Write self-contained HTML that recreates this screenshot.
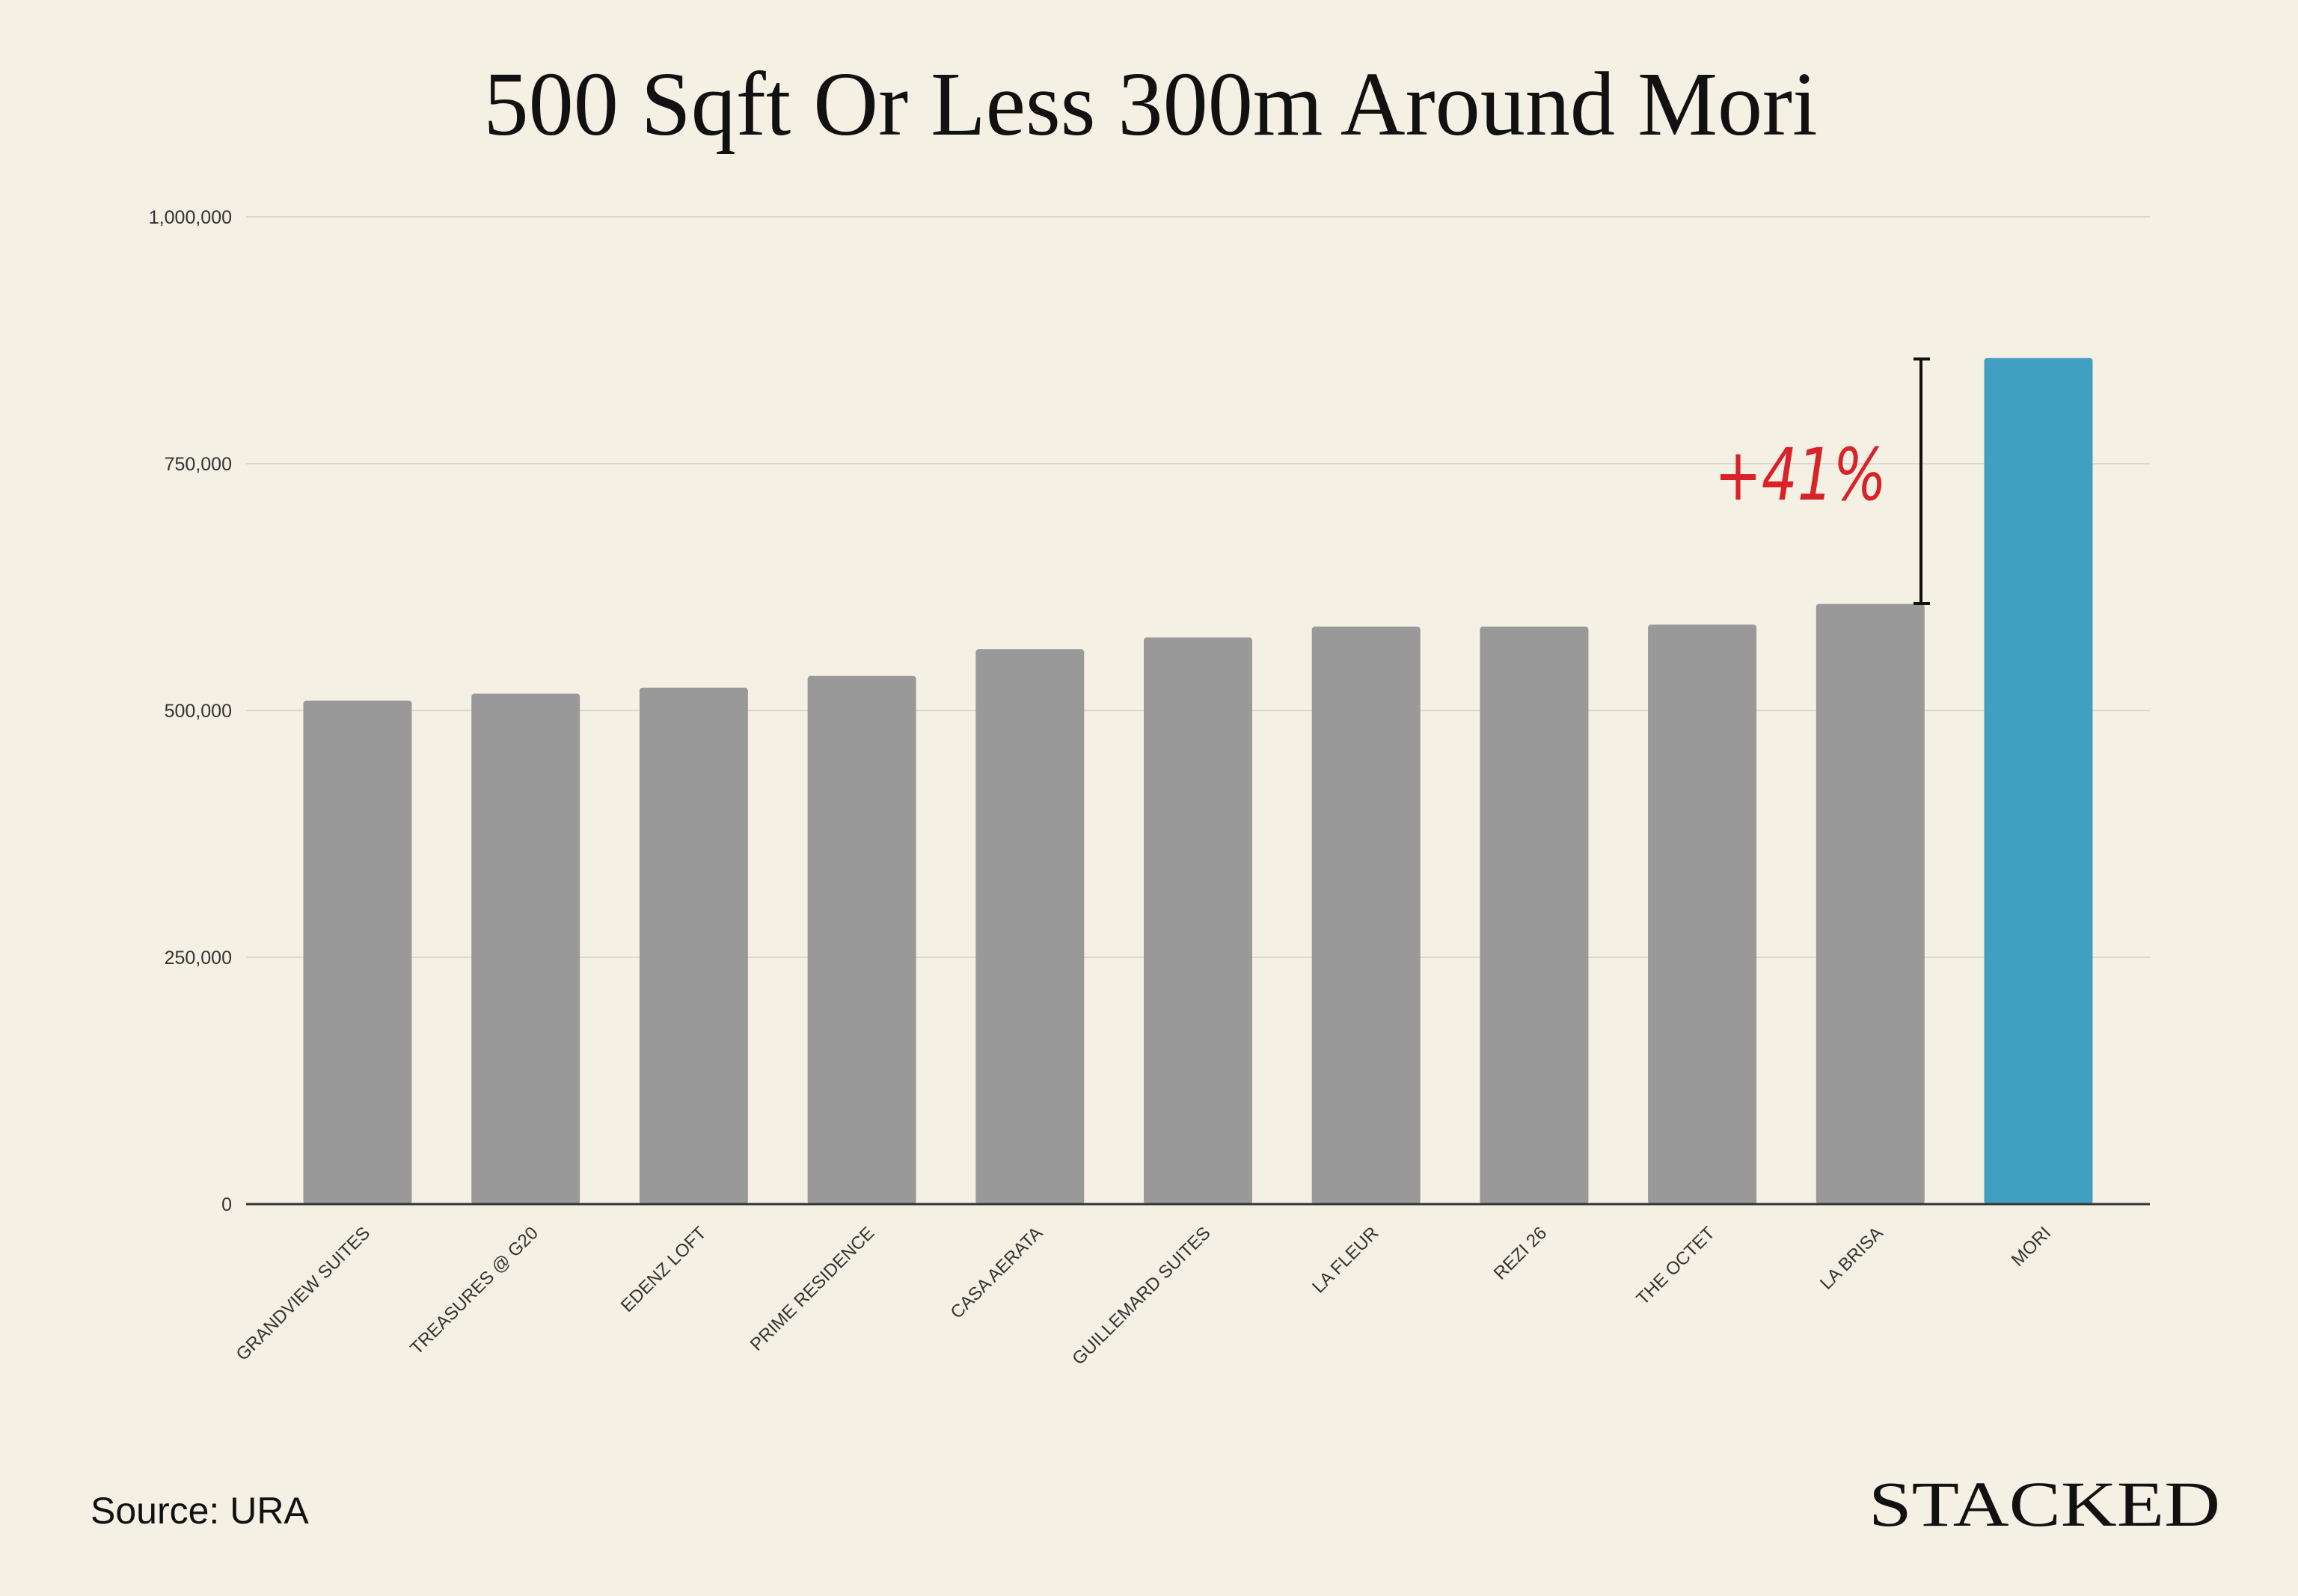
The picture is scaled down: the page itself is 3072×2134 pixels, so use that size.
<!DOCTYPE html>
<html><head><meta charset="utf-8"><style>
html,body{margin:0;padding:0;background:#f5f0e4;}
svg{display:block;}
</style></head><body>
<svg id="chart" width="3072" height="2134" xmlns="http://www.w3.org/2000/svg">
<rect width="3072" height="2134" fill="#f5f0e4"/>
<text x="1538" y="180" text-anchor="middle" font-family="Liberation Serif, serif" font-size="122" fill="#111" textLength="1783" lengthAdjust="spacingAndGlyphs">500 Sqft Or Less 300m Around Mori</text>
<g id="grid"></g>
<g id="bars"></g>
<g id="xlabels"></g>
<line x1="2568" y1="480" x2="2568" y2="807" stroke="#111" stroke-width="4"/>
<line x1="2558" y1="480" x2="2580" y2="480" stroke="#111" stroke-width="4"/>
<line x1="2558" y1="807" x2="2580" y2="807" stroke="#111" stroke-width="4"/>
<text x="2292" y="668" font-family="DejaVu Sans, sans-serif" font-style="italic" font-size="96" fill="#d8232a" textLength="230" lengthAdjust="spacingAndGlyphs">+41%</text>
<text x="121" y="2037" font-family="Liberation Sans, sans-serif" font-size="50" fill="#111">Source: URA</text>
<text x="2498" y="2040" font-family="Liberation Serif, serif" font-size="86" fill="#111" textLength="470" lengthAdjust="spacingAndGlyphs">STACKED</text>
</svg>
<script>
const categories = ["GRANDVIEW SUITES","TREASURES @ G20","EDENZ LOFT","PRIME RESIDENCE","CASA AERATA","GUILLEMARD SUITES","LA FLEUR","REZI 26","THE OCTET","LA BRISA","MORI"];
const values = [510000,517000,523000,535000,562000,574000,585000,585000,587000,608000,857000];
const highlight = ["MORI"];
const yTicks = [0,250000,500000,750000,1000000];
const yTickLabels = ["0","250,000","500,000","750,000","1,000,000"];

const NS = "http://www.w3.org/2000/svg";
const plotLeft = 329, plotRight = 2874, baseY = 1610, topY = 290, yMax = 1000000;
const firstCenter = 478, step = 224.7, barW = 145;
function yScale(v){ return baseY - (v / yMax) * (baseY - topY); }
function xScale(i){ return firstCenter + i * step; }

const grid = document.getElementById('grid');
yTicks.forEach((t, i) => {
  if (t !== 0) {
    const l = document.createElementNS(NS, 'line');
    l.setAttribute('x1', plotLeft); l.setAttribute('x2', plotRight);
    l.setAttribute('y1', yScale(t)); l.setAttribute('y2', yScale(t));
    l.setAttribute('stroke', '#dcd8ce'); l.setAttribute('stroke-width', '2');
    
    
    grid.appendChild(l);
  }
  const tx = document.createElementNS(NS, 'text');
  tx.setAttribute('x', 310); tx.setAttribute('y', yScale(t) + 9);
  tx.setAttribute('text-anchor', 'end');
  tx.setAttribute('font-family', 'Liberation Sans, sans-serif');
  tx.setAttribute('font-size', '25'); tx.setAttribute('fill', '#333');
  tx.textContent = yTickLabels[i];
  
  
  grid.appendChild(tx);
});

const bars = document.getElementById('bars');
const xl = document.getElementById('xlabels');
categories.forEach((c, i) => {
  const y = yScale(values[i]);
  const r = document.createElementNS(NS, 'rect');
  r.setAttribute('x', xScale(i) - barW / 2); r.setAttribute('y', y);
  r.setAttribute('width', barW); r.setAttribute('height', baseY - y);
  r.setAttribute('rx', '4');
  r.setAttribute('fill', highlight.includes(c) ? '#41a0c1' : '#999999');
  
  
  bars.appendChild(r);
  const t = document.createElementNS(NS, 'text');
  const lx = xScale(i) + 18, ly = 1650;
  t.setAttribute('x', lx); t.setAttribute('y', ly);
  t.setAttribute('text-anchor', 'end');
  t.setAttribute('transform', 'rotate(-45 ' + lx + ' ' + ly + ')');
  t.setAttribute('font-family', 'Liberation Sans, sans-serif');
  t.setAttribute('font-size', '24'); t.setAttribute('fill', '#333');
  t.textContent = c;
  
  
  xl.appendChild(t);
});
const axis = document.createElementNS(NS, 'line');
axis.setAttribute('x1', plotLeft); axis.setAttribute('x2', plotRight);
axis.setAttribute('y1', baseY); axis.setAttribute('y2', baseY);
axis.setAttribute('stroke', '#333'); axis.setAttribute('stroke-width', '3');


bars.appendChild(axis);
</script>
</body></html>
